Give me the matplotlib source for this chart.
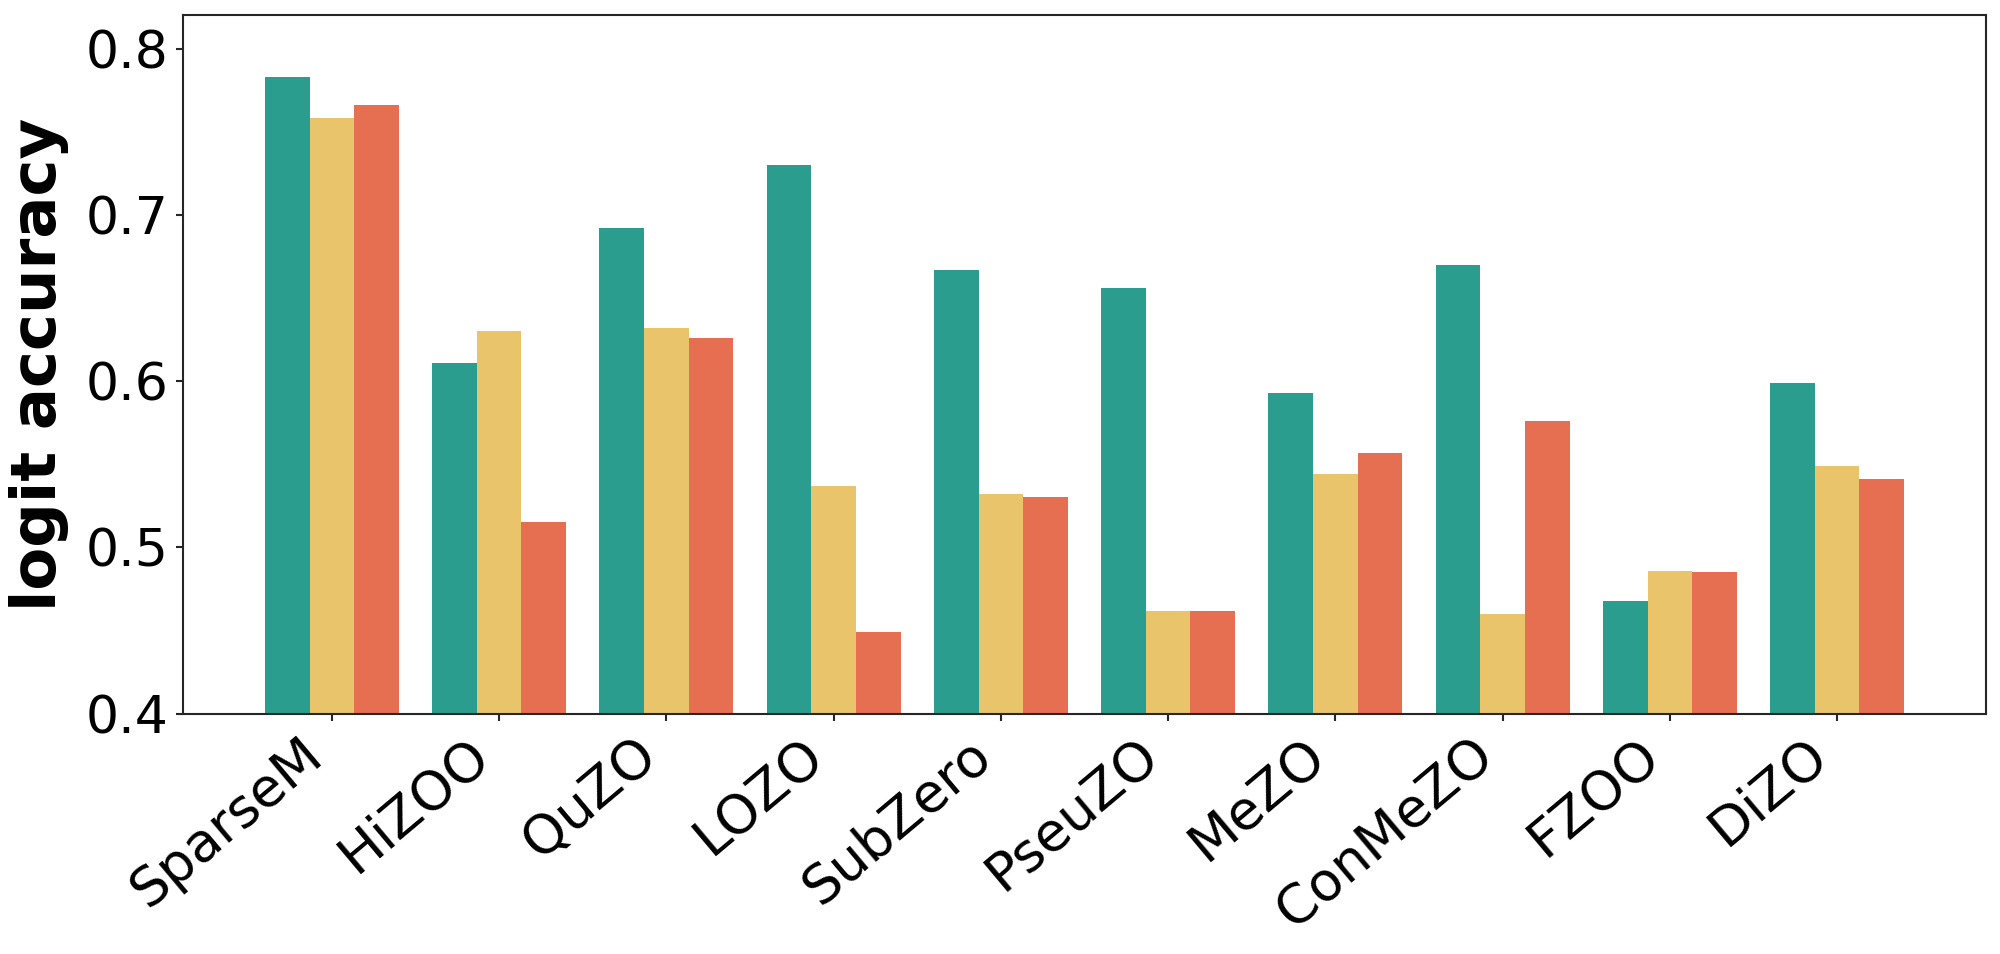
import matplotlib
matplotlib.use("Agg")
import matplotlib.pyplot as plt
import numpy as np

methods = ['SparseM', 'HiZOO', 'QuZO', 'LOZO', 'SubZero',
           'PseuZO', 'MeZO', 'ConMeZO', 'FZOO', 'DiZO']

# three runs per method (teal, yellow, red)
acc_a = [0.783, 0.611, 0.692, 0.730, 0.667, 0.656, 0.593, 0.670, 0.468, 0.599]
acc_b = [0.758, 0.630, 0.632, 0.537, 0.532, 0.462, 0.544, 0.460, 0.486, 0.549]
acc_c = [0.766, 0.515, 0.626, 0.449, 0.530, 0.462, 0.557, 0.576, 0.485, 0.541]

colors = ['#2a9d8f', '#e9c46a', '#e76f51']

fig = plt.figure(figsize=(2000 / 150, 954 / 150), dpi=150)
ax = fig.add_axes([0.0915, 0.252, 0.9015, 0.732])

x = np.arange(len(methods))
w = 0.8 / 3
ax.bar(x - w, acc_a, w, color=colors[0])
ax.bar(x, acc_b, w, color=colors[1])
ax.bar(x + w, acc_c, w, color=colors[2])

ax.set_ylim(0.4, 0.82)
ax.set_yticks([0.4, 0.5, 0.6, 0.7, 0.8])
ax.set_xticks(x)
ax.set_xticklabels(methods, rotation=40, ha='right')
ax.tick_params(axis='both', length=3.5, width=1.0, color='#262626')
ax.tick_params(axis='y', labelsize=25)
ax.tick_params(axis='x', labelsize=26)
ax.set_ylabel('logit accuracy', fontsize=30, fontweight='bold', labelpad=8)

for s in ax.spines.values():
    s.set_color('#262626')
    s.set_linewidth(1.0)

fig.savefig('out.png', dpi=150)
